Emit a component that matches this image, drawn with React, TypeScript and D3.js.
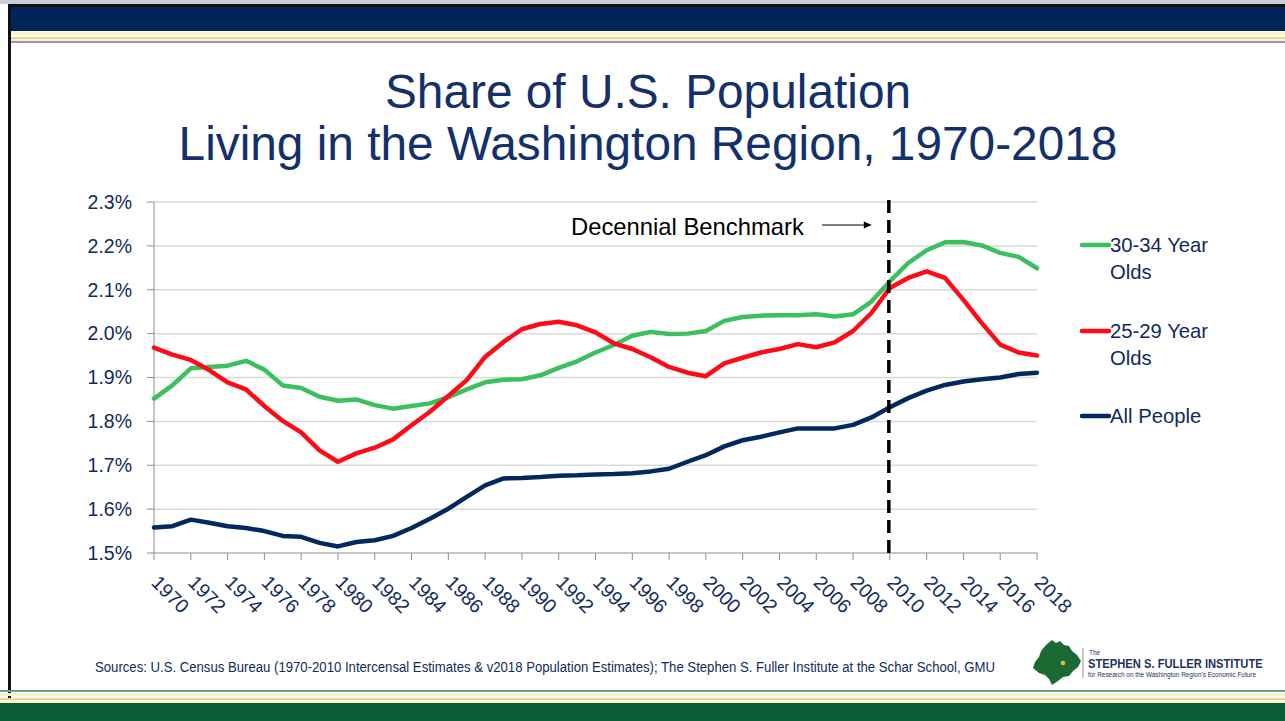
import React, { useRef, useEffect } from 'react';
import * as d3 from 'd3';

const years = [
  1970, 1971, 1972, 1973, 1974, 1975, 1976, 1977, 1978, 1979,
  1980, 1981, 1982, 1983, 1984, 1985, 1986, 1987, 1988, 1989,
  1990, 1991, 1992, 1993, 1994, 1995, 1996, 1997, 1998, 1999,
  2000, 2001, 2002, 2003, 2004, 2005, 2006, 2007, 2008, 2009,
  2010, 2011, 2012, 2013, 2014, 2015, 2016, 2017, 2018,
];

// share of U.S. population, percent
const ages3034 = [
  1.852, 1.882, 1.921, 1.924, 1.927, 1.938, 1.918, 1.882, 1.876, 1.856,
  1.847, 1.85, 1.837, 1.829, 1.835, 1.841, 1.855, 1.873, 1.889, 1.895,
  1.896, 1.905, 1.922, 1.937, 1.957, 1.974, 1.995, 2.004, 1.999, 2.0,
  2.006, 2.029, 2.038, 2.041, 2.042, 2.042, 2.044, 2.039, 2.044, 2.073,
  2.119, 2.161, 2.19, 2.208, 2.209, 2.201, 2.184, 2.175, 2.149,
];

const ages2529 = [
  1.968, 1.952, 1.94, 1.917, 1.889, 1.873, 1.835, 1.801, 1.775, 1.734,
  1.708, 1.727, 1.74, 1.759, 1.791, 1.822, 1.858, 1.894, 1.947, 1.981,
  2.01, 2.022, 2.027, 2.019, 2.003, 1.978, 1.965, 1.946, 1.924, 1.911,
  1.903, 1.932, 1.945, 1.957, 1.965, 1.976, 1.969, 1.98, 2.006, 2.047,
  2.104, 2.127, 2.142, 2.127, 2.077, 2.024, 1.975, 1.957, 1.95,
];

const allPeople = [
  1.558, 1.561, 1.576, 1.569, 1.561, 1.557, 1.55, 1.539, 1.537, 1.523,
  1.515, 1.525, 1.529, 1.539, 1.557, 1.578, 1.601, 1.628, 1.654, 1.67,
  1.671, 1.673, 1.676, 1.677, 1.679, 1.68, 1.682, 1.686, 1.692, 1.708,
  1.723, 1.743, 1.757, 1.765, 1.775, 1.784, 1.784, 1.784, 1.792, 1.809,
  1.832, 1.853, 1.87, 1.883, 1.891, 1.896, 1.9, 1.908, 1.911,
];

const yTicks = [1.5, 1.6, 1.7, 1.8, 1.9, 2.0, 2.1, 2.2, 2.3];
const xTickYears = years.filter((y) => y % 2 === 0);
const benchmarkYear = 2010;

const series = [
  { name: ['30-34 Year', 'Olds'], values: ages3034, color: '#3cbf5d' },
  { name: ['25-29 Year', 'Olds'], values: ages2529, color: '#ff0a17' },
  { name: ['All People'], values: allPeople, color: '#02285e' },
];

const W = 1285;
const H = 721;
const plot = { left: 154, right: 1037, top: 202, bottom: 553 };
const FONT = '"Liberation Sans", Arial, sans-serif';
const NAVY_TEXT = '#0f2b5c';

type Sel = d3.Selection<SVGSVGElement, unknown, null, undefined>;

const App = () => {
  const ref = useRef<SVGSVGElement | null>(null);

  useEffect(() => {
    if (!ref.current) return;
    const svg = d3.select(ref.current);
    svg.selectAll('*').remove();

    const x = d3.scalePoint<number>().domain(years).range([plot.left, plot.right]);
    const y = d3.scaleLinear().domain([1.5, 2.3]).range([plot.bottom, plot.top]);

    drawFrame(svg);
    drawTitle(svg);
    drawGrid(svg, x, y);
    drawLines(svg, x, y);
    drawBenchmark(svg, x);
    drawLegend(svg);
    drawFooter(svg);
  }, []);

  return (
    <svg
      ref={ref}
      width={W}
      height={H}
      style={{ position: 'absolute', left: 0, top: 0, background: '#fff' }}
    />
  );
};

function drawFrame(svg: Sel) {
  // top banner
  svg.append('rect').attr('x', 0).attr('y', 0).attr('width', W).attr('height', 4).attr('fill', '#c9ced6');
  svg.append('rect').attr('x', 8).attr('y', 4).attr('width', W - 8).attr('height', 3).attr('fill', '#111');
  svg.append('rect').attr('x', 10).attr('y', 7).attr('width', W - 10).attr('height', 24).attr('fill', '#00255a');
  svg.append('rect').attr('x', 10).attr('y', 32).attr('width', W - 10).attr('height', 3).attr('fill', '#fbf2c6');
  svg.append('rect').attr('x', 10).attr('y', 37).attr('width', W - 10).attr('height', 2).attr('fill', '#f0d588');
  svg.append('rect').attr('x', 10).attr('y', 39).attr('width', W - 10).attr('height', 2).attr('fill', '#f8eed0');
  svg.append('rect').attr('x', 10).attr('y', 41).attr('width', W - 10).attr('height', 2).attr('fill', '#8f9cae');
  // left border
  svg.append('rect').attr('x', 8).attr('y', 4).attr('width', 3).attr('height', 700).attr('fill', '#111');
  // bottom band
  svg.append('rect').attr('x', 0).attr('y', 690).attr('width', W).attr('height', 2).attr('fill', '#6e9c8a');
  svg.append('rect').attr('x', 0).attr('y', 693).attr('width', W).attr('height', 3).attr('fill', '#fbf1c6');
  svg.append('rect').attr('x', 0).attr('y', 698).attr('width', W).attr('height', 2).attr('fill', '#f3d680');
  svg.append('rect').attr('x', 0).attr('y', 700).attr('width', W).attr('height', 3).attr('fill', '#fbf3d8');
  svg.append('rect').attr('x', 0).attr('y', 703).attr('width', W).attr('height', H - 703).attr('fill', '#0a5c35');
}

function drawTitle(svg: Sel) {
  const lines = ['Share of U.S. Population', 'Living in the Washington Region, 1970-2018'];
  svg
    .append('g')
    .selectAll('text')
    .data(lines)
    .enter()
    .append('text')
    .attr('x', 648)
    .attr('y', (_d, i) => 108 + i * 52)
    .attr('text-anchor', 'middle')
    .attr('font-family', FONT)
    .attr('font-size', 47.8)
    .attr('fill', '#13306b')
    .text((d) => d);
}

function drawGrid(svg: Sel, x: d3.ScalePoint<number>, y: d3.ScaleLinear<number, number>) {
  const g = svg.append('g');
  g.selectAll('.grid')
    .data(yTicks.slice(1))
    .enter()
    .append('line')
    .attr('x1', plot.left)
    .attr('x2', plot.right)
    .attr('y1', (d) => y(d))
    .attr('y2', (d) => y(d))
    .attr('stroke', '#d9d9d9')
    .attr('stroke-width', 1.5);

  // y axis
  g.append('line')
    .attr('x1', plot.left).attr('x2', plot.left)
    .attr('y1', plot.top).attr('y2', plot.bottom)
    .attr('stroke', '#8c8c8c');
  g.selectAll('.ytick')
    .data(yTicks)
    .enter()
    .append('line')
    .attr('x1', plot.left - 7)
    .attr('x2', plot.left)
    .attr('y1', (d) => y(d))
    .attr('y2', (d) => y(d))
    .attr('stroke', '#8c8c8c');
  g.selectAll('.ylabel')
    .data(yTicks)
    .enter()
    .append('text')
    .attr('x', 132)
    .attr('y', (d) => y(d))
    .attr('dy', '0.35em')
    .attr('text-anchor', 'end')
    .attr('font-family', FONT)
    .attr('font-size', 19.5)
    .attr('fill', NAVY_TEXT)
    .text((d) => `${d.toFixed(1)}%`);

  // x axis
  g.append('line')
    .attr('x1', plot.left).attr('x2', plot.right)
    .attr('y1', plot.bottom).attr('y2', plot.bottom)
    .attr('stroke', '#8c8c8c');
  g.selectAll('.xtick')
    .data(xTickYears)
    .enter()
    .append('line')
    .attr('x1', (d) => x(d) ?? 0)
    .attr('x2', (d) => x(d) ?? 0)
    .attr('y1', plot.bottom)
    .attr('y2', plot.bottom + 7)
    .attr('stroke', '#8c8c8c');
  g.selectAll('.xlabel')
    .data(xTickYears)
    .enter()
    .append('text')
    .attr('transform', (d) => `translate(${(x(d) ?? 0) + 1},${plot.bottom + 26}) rotate(45)`)
    .attr('dy', '0.35em')
    .attr('text-anchor', 'start')
    .attr('font-family', FONT)
    .attr('font-size', 19.5)
    .attr('fill', NAVY_TEXT)
    .text((d) => String(d));
}

function drawLines(svg: Sel, x: d3.ScalePoint<number>, y: d3.ScaleLinear<number, number>) {
  const line = d3
    .line<number>()
    .x((_d, i) => x(years[i]) ?? 0)
    .y((d) => y(d));
  svg
    .append('g')
    .selectAll('path')
    .data(series)
    .enter()
    .append('path')
    .attr('d', (s) => line(s.values))
    .attr('fill', 'none')
    .attr('stroke', (s) => s.color)
    .attr('stroke-width', 4.5)
    .attr('stroke-linejoin', 'round')
    .attr('stroke-linecap', 'round');
}

function drawBenchmark(svg: Sel, x: d3.ScalePoint<number>) {
  const bx = (x(benchmarkYear) ?? 0) - 1;
  svg
    .append('line')
    .attr('x1', bx).attr('x2', bx)
    .attr('y1', 200).attr('y2', plot.bottom)
    .attr('stroke', '#000')
    .attr('stroke-width', 3.5)
    .attr('stroke-dasharray', '13 7');

  svg
    .append('text')
    .attr('x', 571)
    .attr('y', 235)
    .attr('font-family', FONT)
    .attr('font-size', 23.8)
    .attr('fill', '#000')
    .text('Decennial Benchmark');

  const ax2 = bx - 17;
  svg
    .append('line')
    .attr('x1', 822).attr('x2', ax2 - 6)
    .attr('y1', 225).attr('y2', 225)
    .attr('stroke', '#000')
    .attr('stroke-width', 1.2);
  svg
    .append('path')
    .attr('d', `M${ax2},225 L${ax2 - 8},221.5 L${ax2 - 8},228.5 Z`)
    .attr('fill', '#000');
}

function drawLegend(svg: Sel) {
  const rows = [245, 331, 416];
  const g = svg.append('g');
  series.forEach((s, i) => {
    g.append('line')
      .attr('x1', 1082).attr('x2', 1109)
      .attr('y1', rows[i]).attr('y2', rows[i])
      .attr('stroke', s.color)
      .attr('stroke-width', 4.5)
      .attr('stroke-linecap', 'round');
    s.name.forEach((t, j) => {
      g.append('text')
        .attr('x', 1110)
        .attr('y', rows[i] + j * 27)
        .attr('dy', '0.35em')
        .attr('font-family', FONT)
        .attr('font-size', 20.3)
        .attr('fill', NAVY_TEXT)
        .text(t);
    });
  });
}

function drawFooter(svg: Sel) {
  svg
    .append('text')
    .attr('x', 95)
    .attr('y', 672)
    .attr('font-family', FONT)
    .attr('font-size', 14)
    .attr('fill', NAVY_TEXT)
    .attr('textLength', 900)
    .attr('lengthAdjust', 'spacingAndGlyphs')
    .text(
      'Sources: U.S. Census Bureau (1970-2010 Intercensal Estimates & v2018 Population Estimates); The Stephen S. Fuller Institute at the Schar School, GMU',
    );

  // institute logo
  const logo = svg.append('g');
  logo
    .append('path')
    .attr(
      'd',
      'M1046,645 L1052,640 L1056,643 L1060,641 L1064,645 L1069,646 L1072,651 L1077,655 L1081,661 L1078,667 L1073,671 L1069,676 L1063,677 L1058,681 L1052,685 L1049,679 L1045,675 L1039,673 L1033,668 L1035,662 L1039,657 L1041,651 Z',
    )
    .attr('fill', '#1c6a33');
  logo.append('circle').attr('cx', 1063).attr('cy', 663).attr('r', 2.3).attr('fill', '#f2b63a');
  logo
    .append('line')
    .attr('x1', 1083).attr('x2', 1083)
    .attr('y1', 648).attr('y2', 678)
    .attr('stroke', '#8d96a3')
    .attr('stroke-width', 1);
  logo
    .append('text')
    .attr('x', 1089).attr('y', 655)
    .attr('font-family', FONT).attr('font-size', 6.5)
    .attr('fill', '#1d3160')
    .text('The');
  logo
    .append('text')
    .attr('transform', 'translate(1088,668) scale(1,1.2)')
    .attr('font-family', FONT).attr('font-size', 11.2).attr('font-weight', 'bold')
    .attr('fill', '#1d3160')
    .text('STEPHEN S. FULLER INSTITUTE');
  logo
    .append('text')
    .attr('x', 1088).attr('y', 677)
    .attr('font-family', FONT).attr('font-size', 6.4)
    .attr('fill', '#1d3160')
    .text("for Research on the Washington Region's Economic Future");
}

export default App;
